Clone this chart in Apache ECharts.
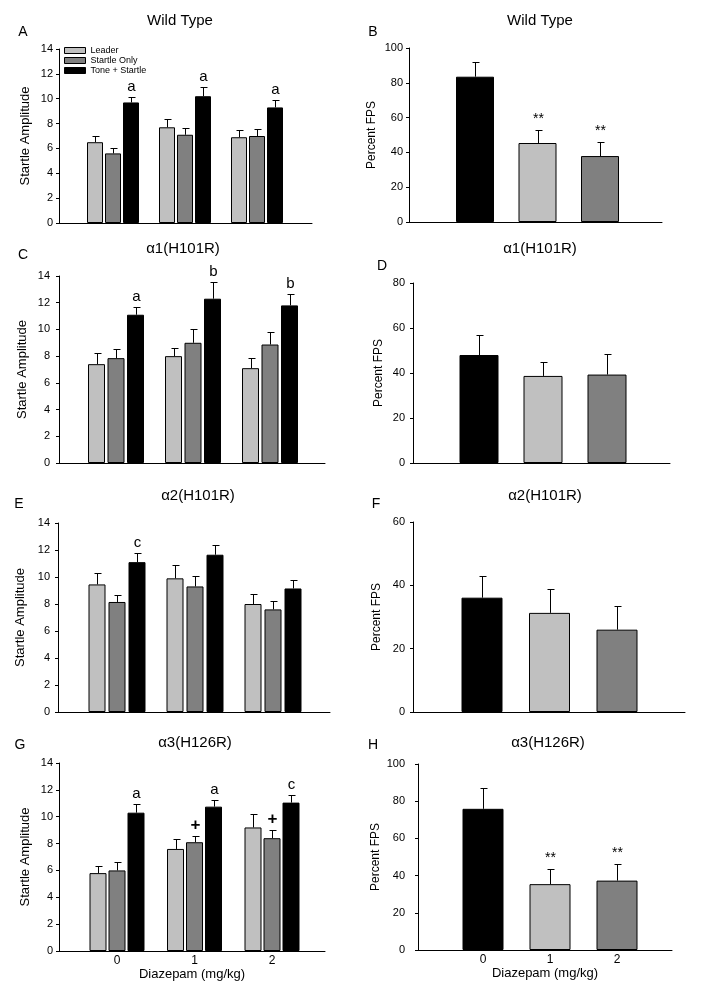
<!DOCTYPE html>
<html><head><meta charset="utf-8">
<script src="https://cdn.jsdelivr.net/npm/echarts@6/dist/echarts.min.js"></script>
<style>html,body{margin:0;background:#fff}#c{width:701px;height:993px}</style>
</head><body><div id="c"></div>
<script>
// ---------- data ----------
const doseTicks = [0, 1, 2];
const groupNames = ['Leader', 'Startle Only', 'Tone + Startle'];
const xAxisTitle = 'Diazepam (mg/kg)';
const startleTitle = 'Startle Amplitude';
const fpsTitle = 'Percent FPS';

// A: Wild Type, startle
const aLeader = [6.5, 7.7, 6.9];
const aLeaderSem = [0.5, 0.7, 0.6];
const aStartle = [5.6, 7.1, 7.0];
const aStartleSem = [0.45, 0.55, 0.55];
const aTone = [9.7, 10.2, 9.3];
const aToneSem = [0.45, 0.75, 0.6];
const aToneMarks = ['a', 'a', 'a'];
// B: Wild Type, FPS
const bFps = [83.5, 45.4, 37.9];
const bFpsSem = [8.6, 7.5, 8.1];
const bMarks = ['', '**', '**'];
// C: a1(H101R), startle
const cLeader = [7.4, 8.0, 7.1];
const cLeaderSem = [0.8, 0.6, 0.75];
const cStartle = [7.85, 9.0, 8.87];
const cStartleSem = [0.65, 1.0, 0.95];
const cTone = [11.1, 12.3, 11.8];
const cToneSem = [0.57, 1.27, 0.83];
const cToneMarks = ['a', 'b', 'b'];
// D: a1(H101R), FPS
const dFps = [48.0, 38.7, 39.3];
const dFpsSem = [9.1, 6.4, 9.2];
const dMarks = ['', '', ''];
// E: a2(H101R), startle
const eLeader = [9.45, 9.9, 8.0];
const eLeaderSem = [0.84, 0.96, 0.72];
const eStartle = [8.15, 9.3, 7.6];
const eStartleSem = [0.54, 0.81, 0.64];
const eTone = [11.1, 11.65, 9.15];
const eToneSem = [0.7, 0.72, 0.64];
const eToneMarks = ['c', '', ''];
// F: a2(H101R), FPS
const fFps = [36.1, 31.3, 26.0];
const fFpsSem = [6.9, 7.6, 7.4];
const fMarks = ['', '', ''];
// G: a3(H126R), startle
const gLeader = [5.8, 7.6, 9.2];
const gLeaderSem = [0.5, 0.73, 1.02];
const gStartle = [6.0, 8.1, 8.4];
const gStartleSem = [0.6, 0.43, 0.64];
const gStartleMarks = ['', '+', '+'];
const gTone = [10.3, 10.75, 11.05];
const gToneSem = [0.65, 0.47, 0.57];
const gToneMarks = ['a', 'a', 'c'];
// H: a3(H126R), FPS
const hFps = [75.9, 35.4, 37.3];
const hFpsSem = [11.0, 8.2, 8.8];
const hMarks = ['', '**', '**'];

// ---------- styles / layout ----------
const FONT = '"Liberation Sans", Arial, sans-serif';
const LIGHT = '#c0c0c0', MID = '#808080', BLACK = '#000000';
const fpsColors = [BLACK, LIGHT, MID];

const panels = [
  {letter:'A', title:'Wild Type', kind:'startle', left:59, top:49, width:253, height:174, c0:113, step:72, max:14, interval:2, bw:16, gap:2, nameGap:27, margin:6, tx:180, ty:21, lx:23, ly:32,
   d:[[aLeader,aLeaderSem,null],[aStartle,aStartleSem,null],[aTone,aToneSem,aToneMarks]]},
  {letter:'B', title:'Wild Type', kind:'fps', left:409, top:48, width:253, height:174, c0:475, step:62.5, max:100, interval:20, bw:38, nameGap:31, margin:6, tx:540, ty:21, lx:373, ly:32,
   d:[bFps,bFpsSem,bMarks]},
  {letter:'C', title:'α1(H101R)', kind:'startle', left:59, top:276, width:266, height:187, c0:116, step:77, max:14, interval:2, bw:17, gap:2.5, nameGap:30, margin:9, tx:183, ty:249, lx:23, ly:255,
   d:[[cLeader,cLeaderSem,null],[cStartle,cStartleSem,null],[cTone,cToneSem,cToneMarks]]},
  {letter:'D', title:'α1(H101R)', kind:'fps', left:413, top:283, width:257, height:180, c0:479, step:64, max:80, interval:20, bw:39, nameGap:28, margin:8, tx:540, ty:249, lx:382, ly:266,
   d:[dFps,dFpsSem,dMarks]},
  {letter:'E', title:'α2(H101R)', kind:'startle', left:58, top:523, width:272, height:189, c0:117, step:78, max:14, interval:2, bw:17, gap:3, nameGap:31, margin:8, tx:198, ty:496, lx:19, ly:504,
   d:[[eLeader,eLeaderSem,null],[eStartle,eStartleSem,null],[eTone,eToneSem,eToneMarks]]},
  {letter:'F', title:'α2(H101R)', kind:'fps', left:413, top:522, width:272, height:190, c0:482, step:67.5, max:60, interval:20, bw:41, nameGap:30, margin:8, tx:545, ty:496, lx:376, ly:504,
   d:[fFps,fFpsSem,fMarks]},
  {letter:'G', title:'α3(H126R)', kind:'startle', left:59, top:763, width:266, height:188, c0:117, step:77.5, max:14, interval:2, bw:17, gap:2, nameGap:27, margin:6, tx:195, ty:743, lx:20, ly:745, bottom:true,
   d:[[gLeader,gLeaderSem,null],[gStartle,gStartleSem,gStartleMarks],[gTone,gToneSem,gToneMarks]]},
  {letter:'H', title:'α3(H126R)', kind:'fps', left:418, top:764, width:254, height:186, c0:483, step:67, max:100, interval:20, bw:41, nameGap:36, margin:13, tx:548, ty:743, lx:373, ly:745, bottom:true,
   d:[hFps,hFpsSem,hMarks]}
];

const grids = [], xAxes = [], yAxes = [], series = [], graphics = [];

function markFont(t) {
  if (t === '+') return 'bold 17px ' + FONT;
  if (t === '**') return '14px ' + FONT;
  return '15px ' + FONT;
}

function errSeries(i, means, sems, marks, off) {
  return {
    type: 'custom', xAxisIndex: i, yAxisIndex: i, clip: false, z: 5, silent: true,
    data: doseTicks.map((x, k) => [x, means[k], sems[k]]),
    encode: {x: 0, y: 1},
    renderItem: (params, api) => {
      const x = api.value(0), m = api.value(1), s = api.value(2);
      const p0 = api.coord([x, m]);
      const p1 = api.coord([x, m + s]);
      const cx = Math.round(p0[0] + off) + 0.5;
      const yt = Math.round(p1[1]) + 0.5;
      const ch = [
        {type: 'line', shape: {x1: cx, y1: p0[1], x2: cx, y2: yt}, style: {stroke: '#000', lineWidth: 1}},
        {type: 'line', shape: {x1: cx - 3, y1: yt, x2: cx + 4, y2: yt}, style: {stroke: '#000', lineWidth: 1}}
      ];
      const t = marks ? marks[params.dataIndex] : '';
      if (t) {
        ch.push({type: 'text', x: cx, y: yt - (t === '**' ? 4 : 3),
          style: {text: t, align: 'center', verticalAlign: 'bottom', font: markFont(t), fill: '#000'}});
      }
      return {type: 'group', children: ch};
    }
  };
}

panels.forEach((p, i) => {
  grids.push({left: p.left, top: p.top, width: p.width, height: p.height, containLabel: false});
  const xmin = (p.left - p.c0) / p.step;
  const xmax = xmin + p.width / p.step;
  xAxes.push({
    type: 'value', gridIndex: i, min: xmin, max: xmax,
    splitLine: {show: false},
    axisLine: {show: true, onZero: false, lineStyle: {color: '#000', width: 1}},
    axisTick: {show: false},
    axisLabel: p.bottom ? {show: true, customValues: doseTicks, formatter: v => String(Math.round(v)), color: '#000', fontSize: 12, margin: 4, fontFamily: FONT} : {show: false},
    name: p.bottom ? xAxisTitle : '', nameLocation: 'middle', nameGap: 15,
    nameTextStyle: {color: '#000', fontSize: 13, fontFamily: FONT}
  });
  yAxes.push({
    type: 'value', gridIndex: i, min: 0, max: p.max, interval: p.interval,
    splitLine: {show: false},
    axisLine: {show: true, onZero: false, lineStyle: {color: '#000', width: 1}},
    axisTick: {show: true, inside: false, length: 3, lineStyle: {color: '#000'}},
    axisLabel: {color: '#000', fontSize: 11, margin: p.margin, fontFamily: FONT},
    name: p.kind === 'startle' ? startleTitle : fpsTitle,
    nameLocation: 'middle', nameGap: p.nameGap, nameRotate: 90,
    nameTextStyle: {color: '#000', fontSize: p.kind === 'startle' ? 13 : 12, fontFamily: FONT}
  });
  if (p.kind === 'startle') {
    const cols = [LIGHT, MID, BLACK];
    const gapPct = (p.gap / p.bw * 100) + '%';
    p.d.forEach((arr, j) => {
      series.push({
        type: 'bar', name: groupNames[j], xAxisIndex: i, yAxisIndex: i,
        barWidth: p.bw, barGap: gapPct,
        data: doseTicks.map((x, k) => [x, arr[0][k]]),
        itemStyle: {color: cols[j], borderColor: '#000', borderWidth: 1},
        silent: true
      });
    });
    p.d.forEach((arr, j) => {
      const off = (j - 1) * (p.bw + p.gap);
      series.push(errSeries(i, arr[0], arr[1], arr[2], off));
    });
  } else {
    series.push({
      type: 'bar', name: fpsTitle, xAxisIndex: i, yAxisIndex: i, barWidth: p.bw,
      data: doseTicks.map((x, k) => ({value: [x, p.d[0][k]], itemStyle: {color: fpsColors[k]}})),
      itemStyle: {borderColor: '#000', borderWidth: 1}, silent: true
    });
    series.push(errSeries(i, p.d[0], p.d[1], p.d[2], 0));
  }
  graphics.push({type: 'text', x: p.tx, y: p.ty, style: {text: p.title, align: 'center', verticalAlign: 'middle', font: '15px ' + FONT, fill: '#000'}});
  graphics.push({type: 'text', x: p.lx, y: p.ly, style: {text: p.letter, align: 'center', verticalAlign: 'middle', font: '14px ' + FONT, fill: '#000'}});
});

const chart = echarts.init(document.getElementById('c'), null, {renderer: 'canvas'});
chart.setOption({
  animation: false,
  backgroundColor: '#ffffff',
  textStyle: {fontFamily: FONT},
  grid: grids, xAxis: xAxes, yAxis: yAxes, series: series,
  legend: {
    data: groupNames, orient: 'vertical', left: 64, top: 46, padding: 0,
    itemWidth: 21, itemHeight: 6, itemGap: 1, icon: 'rect', selectedMode: false,
    textStyle: {fontSize: 9, lineHeight: 9, color: '#000', fontFamily: FONT},
    itemStyle: {borderColor: '#000', borderWidth: 1}
  },
  graphic: graphics
});
</script></body></html>
